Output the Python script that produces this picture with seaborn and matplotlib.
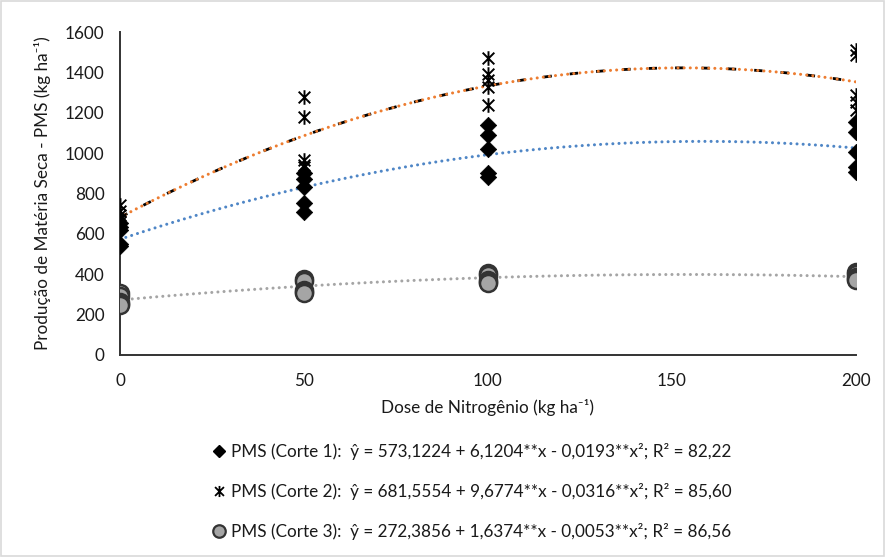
import numpy as np
import pandas as pd
import seaborn as sns
import matplotlib
matplotlib.use("Agg")
import matplotlib.pyplot as plt
from matplotlib.path import Path
from matplotlib.lines import Line2D
from matplotlib.patches import Rectangle

# ---------------- data ----------------
doses = [0, 50, 100, 200]
corte1 = {0: [655, 635, 620, 548, 540],
          50: [900, 870, 830, 755, 710],
          100: [1140, 1090, 1020, 900, 882],
          200: [1155, 1105, 1005, 930, 906]}
corte2 = {0: [745, 715, 695, 675, 660],
          50: [1280, 1178, 966, 940, 930],
          100: [1471, 1390, 1360, 1330, 1238],
          200: [1511, 1486, 1288, 1253, 1213]}
corte3 = {0: [305, 290, 262, 255, 250],
          50: [375, 365, 320, 310, 305],
          100: [405, 395, 370, 362, 358],
          200: [410, 400, 385, 375, 370]}
# trend-line coefficients (a, b, c) from the chart: y = a + b x + c x^2
coef1 = [573.1224, 6.1204, -0.0193]
coef2 = [681.5554, 9.6774, -0.0316]
coef3 = [272.3856, 1.6374, -0.0053]
labels = ["PMS (Corte 1):  ŷ = 573,1224 + 6,1204**x - 0,0193**x²; R² = 82,22",
          "PMS (Corte 2):  ŷ = 681,5554 + 9,6774**x - 0,0316**x²; R² = 85,60",
          "PMS (Corte 3):  ŷ = 272,3856 + 1,6374**x - 0,0053**x²; R² = 86,56"]
xticks = [0, 50, 100, 150, 200]
yticks = [0, 200, 400, 600, 800, 1000, 1200, 1400, 1600]

def to_df(d):
    rows = [(x, v) for x in doses for v in d[x]]
    return pd.DataFrame(rows, columns=["x", "y"])

sns.set_theme(style="white")
plt.rcParams["font.family"] = ["Lato", "DejaVu Sans"]
FS = 12.3

fig = plt.figure(figsize=(8.86, 5.57), dpi=100)
ax = fig.add_axes([0.1354, 0.3627, 0.8307, 0.5798])

xs = np.linspace(0, 200, 401)
def trend(c):
    return c[0] + c[1] * xs + c[2] * xs ** 2

dot = (0, (0.01, 2.0))
# trend lines
sns.lineplot(x=xs, y=trend(coef1), ax=ax, color="#4F86C6", lw=2.2,
             linestyle=dot, dash_capstyle="round", zorder=2)
sns.lineplot(x=xs, y=trend(coef2), ax=ax, color="black", lw=2.0,
             linestyle=(0, (3.0, 6.5)), zorder=2)
sns.lineplot(x=xs, y=trend(coef2), ax=ax, color="#ED7D31", lw=2.2,
             linestyle=dot, dash_capstyle="round", zorder=3)
sns.lineplot(x=xs, y=trend(coef3), ax=ax, color="#A5A5A5", lw=2.2,
             linestyle=dot, dash_capstyle="round", zorder=2)

# star marker: X plus vertical line
star = Path([(-1, -1), (1, 1), (-1, 1), (1, -1), (0, -1.25), (0, 1.25)],
            [Path.MOVETO, Path.LINETO, Path.MOVETO, Path.LINETO, Path.MOVETO, Path.LINETO])

d1, d2, d3 = to_df(corte1), to_df(corte2), to_df(corte3)
sns.scatterplot(data=d1, x="x", y="y", ax=ax, marker="D", s=70, color="black",
                edgecolor="black", linewidth=0.5, zorder=5)
sns.scatterplot(data=d2, x="x", y="y", ax=ax, marker=star, s=110, color="black",
                edgecolor="black", linewidth=1.4, zorder=5)
sns.scatterplot(data=d3, x="x", y="y", ax=ax, marker="o", s=150, color="#A5A5A5",
                edgecolor="#333333", linewidth=1.8, zorder=5)

ax.set_xlim(0, 200)
ax.set_ylim(0, 1600)
ax.set_xticks(xticks)
ax.set_yticks(yticks)
ax.tick_params(axis="both", labelsize=FS, colors="#1a1a1a", length=5, width=1.2,
               direction="out", pad=6)
ax.tick_params(axis="x", pad=8)
for s in ["top", "right"]:
    ax.spines[s].set_visible(False)
for s in ["left", "bottom"]:
    ax.spines[s].set_color("#333333")
    ax.spines[s].set_linewidth(1.4)
ax.set_xlabel("Dose de Nitrogênio (kg ha⁻¹)", fontsize=FS, color="#1a1a1a", labelpad=7)
ax.set_ylabel("Produção de Matéria Seca - PMS (kg ha⁻¹)", fontsize=FS, color="#1a1a1a", labelpad=10)

handles = [
    Line2D([], [], marker="D", color="black", ls="none", markersize=6.5),
    Line2D([], [], marker=star, color="black", ls="none", markersize=8, markeredgewidth=1.3),
    Line2D([], [], marker="o", markerfacecolor="#A5A5A5", markeredgecolor="#333333",
           ls="none", markersize=9, markeredgewidth=1.6),
]
fig.legend(handles, labels, loc="upper left", bbox_to_anchor=(0.232, 0.217),
           frameon=False, fontsize=FS, labelspacing=1.35, handlelength=0.8,
           handletextpad=0.3, borderaxespad=0, labelcolor="#1a1a1a")

fig.patches.append(Rectangle((0.001, 0.001), 0.997, 0.997, transform=fig.transFigure,
                             fill=False, edgecolor="#D9D9D9", lw=1.2))
fig.savefig("out.png", dpi=100)
